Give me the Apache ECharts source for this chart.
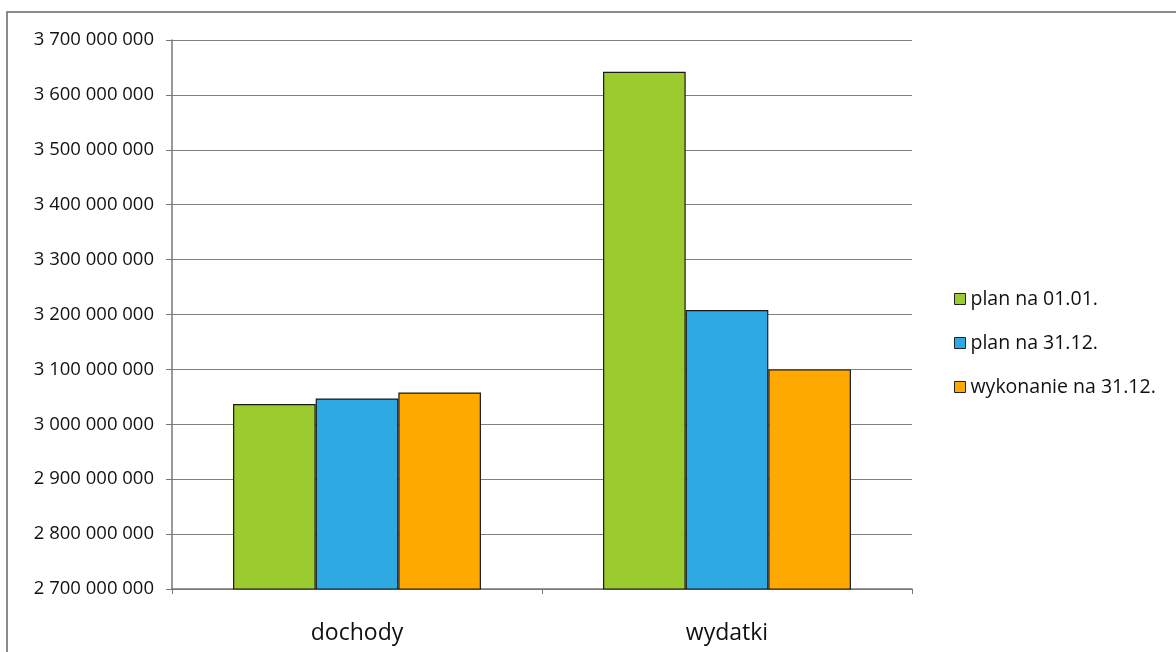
<!DOCTYPE html>
<html>
<head>
<meta charset="utf-8">
<script src="https://cdn.jsdelivr.net/npm/echarts@6/dist/echarts.min.js"></script>
<style>html,body{margin:0;padding:0;background:#fff;}#c{width:1176px;height:652px;}</style>
</head>
<body>
<div id="c"></div>
<script>
const categories = ['dochody', 'wydatki'];
const seriesNames = ['plan na 01.01.', 'plan na 31.12.', 'wykonanie na 31.12.'];
const planStart = [3037000000, 3642000000];
const planEnd = [3047000000, 3208000000];
const wykonanie = [3058000000, 3100000000];
const colors = ['#9bcb2e', '#2ea9e1', '#ffa800'];

const chart = echarts.init(document.getElementById('c'));
function fmt(v){ return String(v).replace(/\B(?=(\d{3})+(?!\d))/g, ' '); }
const font = 'Open Sans';
const mk = (name, data, i) => ({
  name, type: 'bar', data, barGap: '0%', barCategoryGap: '33%',
  itemStyle: { color: colors[i], borderColor: '#1a1a1a', borderWidth: 1.2 }
});
chart.setOption({
  animation: false,
  graphic: [{ type: 'polyline', shape: { points: [[7, 652], [7, 12], [1176, 12]] }, style: { stroke: '#666', lineWidth: 1.5, fill: null } }],
  grid: { left: 172, right: 264, top: 40, bottom: 63, containLabel: false },
  legend: {
    orient: 'vertical', left: 949, top: 282, itemWidth: 11, itemHeight: 11, itemGap: 20,
    icon: 'rect',
    textStyle: { fontFamily: font, fontSize: 19.5, color: '#111', lineHeight: 24 },
    itemStyle: { borderColor: '#222', borderWidth: 1 }
  },
  xAxis: {
    type: 'category', data: categories,
    axisLine: { lineStyle: { color: '#777', width: 1.5 } },
    axisTick: { show: true, length: 5, lineStyle: { color: '#777' } },
    axisLabel: { fontFamily: font, fontSize: 23, color: '#111', margin: 33 }
  },
  yAxis: {
    type: 'value', min: 2700000000, max: 3700000000, interval: 100000000,
    axisLine: { show: true, lineStyle: { color: '#777', width: 1.5 } },
    axisTick: { show: true, length: 6, inside: false, lineStyle: { color: '#777' } },
    splitLine: { lineStyle: { color: '#808080', width: 1.2 } },
    axisLabel: { fontFamily: font, fontSize: 18.5, color: '#111', margin: 18, formatter: fmt }
  },
  series: [mk(seriesNames[0], planStart, 0), mk(seriesNames[1], planEnd, 1), mk(seriesNames[2], wykonanie, 2)]
});
</script>
</body>
</html>
